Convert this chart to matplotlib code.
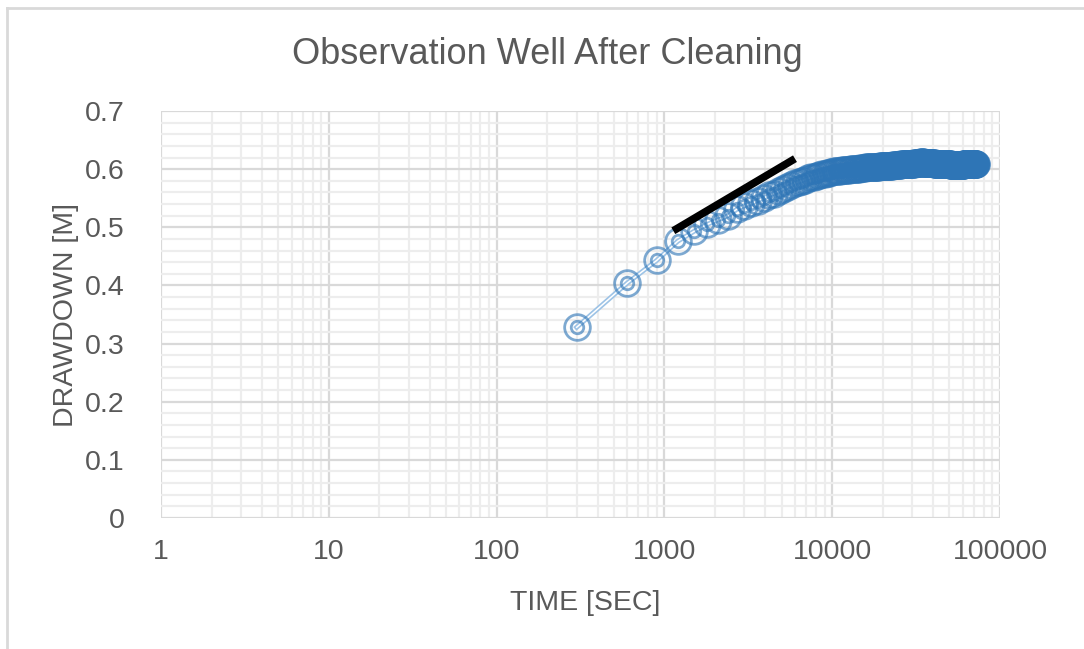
import matplotlib
matplotlib.use("Agg")
import matplotlib.pyplot as plt
import numpy as np
from matplotlib.lines import Line2D

plt.rcParams['font.family'] = ['Liberation Sans', 'DejaVu Sans']

# time samples every 300 s
time_sec = np.arange(300, 72001, 300)

# drawdown (m), 10 values per row
drawdown = [
    0.328, 0.404, 0.443, 0.476, 0.493, 0.505, 0.513, 0.520, 0.531, 0.537,
    0.541, 0.546, 0.550, 0.555, 0.558, 0.562, 0.566, 0.569, 0.572, 0.576,
    0.578, 0.580, 0.582, 0.584, 0.586, 0.587, 0.589, 0.590, 0.591, 0.592,
    0.593, 0.594, 0.595, 0.596, 0.596, 0.597, 0.597, 0.598, 0.598, 0.599,
    0.599, 0.599, 0.600, 0.600, 0.600, 0.601, 0.601, 0.601, 0.602, 0.602,
    0.602, 0.602, 0.603, 0.603, 0.603, 0.603, 0.603, 0.604, 0.604, 0.604,
    0.604, 0.604, 0.604, 0.605, 0.605, 0.605, 0.605, 0.605, 0.605, 0.606,
    0.606, 0.606, 0.606, 0.606, 0.606, 0.606, 0.607, 0.607, 0.607, 0.607,
    0.607, 0.607, 0.607, 0.607, 0.607, 0.608, 0.608, 0.608, 0.608, 0.608,
    0.608, 0.608, 0.608, 0.608, 0.609, 0.609, 0.609, 0.609, 0.609, 0.609,
    0.609, 0.609, 0.610, 0.610, 0.610, 0.610, 0.610, 0.610, 0.611, 0.611,
    0.611, 0.611, 0.612, 0.612, 0.612, 0.612, 0.611, 0.611, 0.611, 0.611,
    0.611, 0.610, 0.610, 0.610, 0.611, 0.611, 0.611, 0.610, 0.610, 0.610,
    0.610, 0.610, 0.610, 0.610, 0.610, 0.609, 0.609, 0.609, 0.609, 0.609,
    0.609, 0.609, 0.609, 0.609, 0.609, 0.609, 0.608, 0.608, 0.608, 0.608,
    0.608, 0.608, 0.608, 0.608, 0.608, 0.608, 0.608, 0.608, 0.608, 0.608,
    0.608, 0.608, 0.608, 0.608, 0.608, 0.608, 0.608, 0.608, 0.607, 0.607,
    0.607, 0.607, 0.607, 0.607, 0.607, 0.607, 0.607, 0.607, 0.607, 0.607,
    0.607, 0.607, 0.607, 0.607, 0.607, 0.607, 0.607, 0.607, 0.607, 0.607,
    0.607, 0.607, 0.607, 0.607, 0.607, 0.607, 0.607, 0.607, 0.607, 0.607,
    0.607, 0.607, 0.608, 0.608, 0.608, 0.608, 0.608, 0.608, 0.608, 0.608,
    0.608, 0.608, 0.608, 0.608, 0.608, 0.608, 0.608, 0.608, 0.608, 0.608,
    0.608, 0.608, 0.608, 0.608, 0.608, 0.608, 0.608, 0.608, 0.608, 0.608,
    0.608, 0.608, 0.608, 0.608, 0.608, 0.609, 0.609, 0.609, 0.609, 0.609,
]

# straight-line fit drawn by hand on the chart
fit_time = [1130, 6000]
fit_drawdown = [0.494, 0.618]

x_ticks = [1, 10, 100, 1000, 10000, 100000]
y_ticks = [0, 0.1, 0.2, 0.3, 0.4, 0.5, 0.6, 0.7]

txt = '#595959'
blue = '#2E75B6'

fig = plt.figure(figsize=(10.84, 6.49), dpi=100)
ax = fig.add_axes([161 / 1084, 1 - 518 / 649, 839 / 1084, 407 / 649])

ax.set_xscale('log')
ax.set_xlim(1, 100000)
ax.set_ylim(0, 0.7)

# grid
ax.set_yticks(y_ticks)
ax.set_yticks(np.arange(0, 0.701, 0.02), minor=True)
ax.set_xticks(x_ticks)
ax.set_xticklabels([str(v) for v in x_ticks])
ax.set_yticklabels(['0' if v == 0 else f'{v:.1f}' for v in y_ticks])
ax.grid(which='minor', color='#EDEDED', lw=1.6, zorder=0)
ax.grid(which='major', color='#D9D9D9', lw=1.6, zorder=0.5)
ax.set_axisbelow(True)
for s in ax.spines.values():
    s.set_visible(False)
ax.tick_params(which='both', length=0, labelsize=20.5, labelcolor=txt)
ax.tick_params(axis='x', pad=15)
ax.tick_params(axis='y', pad=26)
ax.xaxis.set_minor_formatter(matplotlib.ticker.NullFormatter())

# connecting line (double-line look)
ax.plot(time_sec, drawdown, color='#9DC3E6', lw=3.5, zorder=2)
ax.plot(time_sec, drawdown, color='white', lw=1.1, zorder=2.1)

# double-ring markers
ax.plot(time_sec, drawdown, ls='none', marker='o', ms=18.5, mfc='none',
        mec=blue, mew=2, alpha=0.62, zorder=3)
ax.plot(time_sec, drawdown, ls='none', marker='o', ms=9, mfc='none',
        mec=blue, mew=2, alpha=0.62, zorder=3)

ax.plot(fit_time, fit_drawdown, color='black', lw=5.5,
        solid_capstyle='butt', zorder=4)

fig.text(547 / 1084, 1 - 55 / 649, 'Observation Well After Cleaning',
         ha='center', va='center', fontsize=26, color=txt)
fig.text(585 / 1084, 1 - 603 / 649, 'TIME [SEC]', ha='center', va='center',
         fontsize=20.5, color=txt)
fig.text(66 / 1084, 1 - 315 / 649, 'DRAWDOWN [M]', ha='center', va='center',
         rotation=90, fontsize=20.5, color=txt)

# chart area border (left and top visible)
fig.add_artist(Line2D([7 / 1084, 7 / 1084], [0, 1 - 8 / 649],
                      transform=fig.transFigure, color='#D9D9D9', lw=2))
fig.add_artist(Line2D([7 / 1084, 1], [1 - 8 / 649, 1 - 8 / 649],
                      transform=fig.transFigure, color='#D9D9D9', lw=2))

fig.savefig('out.png', dpi=100)
